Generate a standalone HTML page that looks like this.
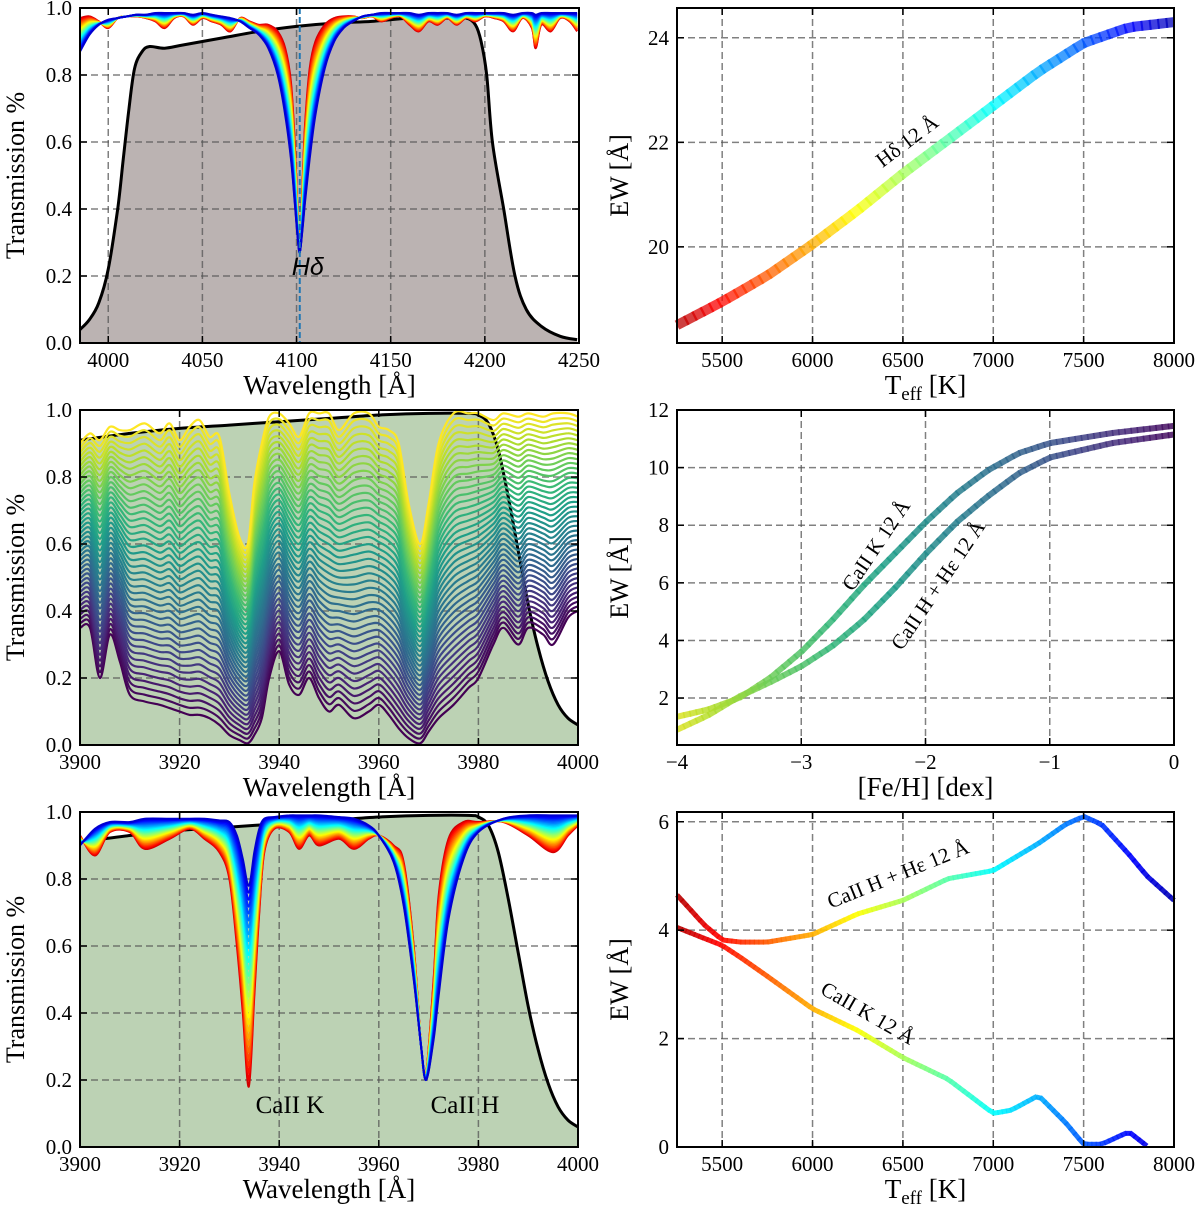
<!DOCTYPE html>
<html><head><meta charset="utf-8"><style>
html,body{margin:0;padding:0;background:#fff}
svg text{font-family:"Liberation Serif",serif;fill:#000}
</style></head><body>
<svg id="fig" width="1200" height="1207" viewBox="0 0 1200 1207" xmlns="http://www.w3.org/2000/svg"></svg>
<script>
// ---------- DATA ----------
// Panel A (H-delta spectra, 3985-4250 A)
const hdWave = [3985,3990,3995,4000,4005,4010,4015,4020,4025,4030,4035,4040,4045,4050,4055,4060,4065,4070,4075,4080,4085,4090,4094,4097,4099,4100.5,4101.7,4103,4104.5,4107,4110,4115,4120,4125,4130,4135,4140,4145,4150,4155,4160,4165,4170,4175,4180,4185,4190,4195,4200,4205,4210,4215,4220,4225,4227,4230,4235,4240,4245,4249];
const hdCool = [0.97,0.975,0.96,0.94,0.97,0.975,0.975,0.97,0.96,0.94,0.97,0.975,0.95,0.97,0.96,0.95,0.93,0.97,0.96,0.95,0.95,0.93,0.88,0.78,0.6,0.4,0.27,0.45,0.65,0.82,0.9,0.95,0.97,0.975,0.975,0.97,0.975,0.96,0.97,0.975,0.95,0.93,0.96,0.95,0.97,0.95,0.97,0.96,0.975,0.97,0.96,0.93,0.97,0.94,0.88,0.95,0.93,0.97,0.96,0.93];
const hdHot = [0.87,0.92,0.95,0.965,0.97,0.975,0.98,0.98,0.985,0.985,0.985,0.985,0.98,0.985,0.98,0.975,0.97,0.96,0.94,0.92,0.88,0.8,0.68,0.55,0.42,0.32,0.27,0.33,0.42,0.55,0.68,0.82,0.9,0.94,0.96,0.975,0.98,0.985,0.985,0.985,0.985,0.98,0.985,0.985,0.985,0.98,0.985,0.985,0.985,0.985,0.985,0.98,0.985,0.985,0.98,0.985,0.985,0.985,0.985,0.985];
const hdFiltWave = [3985,3990,3995,4000,4005,4008,4011,4014,4018,4022,4030,4040,4060,4080,4100,4120,4140,4160,4180,4190,4195,4198,4201,4204,4210,4216,4222,4230,4240,4249];
const hdFilt = [0.04,0.07,0.12,0.22,0.4,0.55,0.7,0.82,0.87,0.885,0.88,0.89,0.91,0.93,0.945,0.955,0.96,0.97,0.97,0.97,0.95,0.9,0.8,0.6,0.4,0.2,0.1,0.05,0.02,0.01];
// Panel C (metallicity family)
const mWave = [3900,3902,3904,3906,3908,3910,3913,3916,3918,3920,3922,3924,3926,3928,3930,3932,3933.7,3935,3936.5,3938,3940,3942,3944,3946,3948,3950,3952,3955,3958,3960,3962,3964,3966,3968.3,3970,3972,3975,3978,3980,3983,3985,3988,3990,3993,3995,3998,4000];
const mRich = [0.35,0.35,0.2,0.33,0.25,0.15,0.13,0.12,0.11,0.1,0.09,0.09,0.08,0.06,0.03,0.015,0.005,0.03,0.08,0.2,0.28,0.18,0.15,0.2,0.14,0.1,0.12,0.08,0.1,0.12,0.09,0.05,0.02,0.005,0.04,0.08,0.12,0.17,0.2,0.3,0.35,0.3,0.35,0.33,0.3,0.38,0.4];
const mPoor = [0.9,0.93,0.91,0.95,0.94,0.94,0.96,0.93,0.96,0.91,0.95,0.97,0.92,0.92,0.75,0.62,0.6,0.78,0.9,0.98,0.99,0.96,0.92,0.99,0.99,0.99,0.94,0.99,0.99,0.95,0.94,0.9,0.72,0.6,0.72,0.9,0.99,0.99,0.99,0.97,0.99,0.98,0.99,0.98,0.99,0.99,0.98];
const caFiltWave = [3900,3910,3920,3930,3940,3950,3960,3970,3978,3980,3982,3984,3986,3988,3990,3992,3994,3996,3998,4000];
const caFilt = [0.91,0.93,0.945,0.955,0.965,0.975,0.985,0.99,0.99,0.985,0.96,0.88,0.74,0.58,0.42,0.29,0.19,0.12,0.08,0.06];
// Panel E (temperature family)
const tWave = [3900,3903,3906,3910,3913,3918,3922,3925,3928,3930,3931.5,3932.7,3933.9,3935,3936,3937,3939,3942,3944,3946,3948,3952,3955,3958,3960,3963,3965,3967,3968.5,3969.5,3971,3972,3974,3977,3980,3985,3990,3995,3998,4000];
const tCool = [0.93,0.87,0.94,0.94,0.89,0.92,0.95,0.92,0.88,0.8,0.6,0.4,0.18,0.45,0.7,0.88,0.95,0.94,0.89,0.93,0.9,0.92,0.89,0.92,0.93,0.9,0.85,0.6,0.3,0.22,0.5,0.75,0.92,0.97,0.97,0.97,0.93,0.88,0.93,0.96];
const tHot = [0.9,0.95,0.97,0.97,0.98,0.98,0.98,0.98,0.975,0.97,0.93,0.86,0.78,0.88,0.95,0.98,0.985,0.99,0.99,0.99,0.99,0.985,0.98,0.96,0.93,0.85,0.72,0.5,0.3,0.2,0.32,0.45,0.68,0.86,0.94,0.98,0.99,0.99,0.99,0.99];
// Panel B (H-delta EW vs Teff)
const hdTeff = [5250,5500,5750,6000,6250,6500,6750,7000,7250,7500,7750,8000];
const hdEW = [18.5,18.95,19.45,20.05,20.7,21.4,22.05,22.7,23.35,23.9,24.2,24.3];
// Panel D (EW vs [Fe/H])
const feh = [-4,-3.75,-3.5,-3.25,-3,-2.75,-2.5,-2.25,-2,-1.75,-1.5,-1.25,-1,-0.5,0];
const ewK_feh = [1.35,1.6,2.0,2.7,3.6,4.7,5.9,7.0,8.1,9.1,9.9,10.5,10.85,11.2,11.45];
const ewH_feh = [0.9,1.4,2.05,2.55,3.1,3.8,4.7,5.8,7.0,8.1,9.0,9.8,10.35,10.85,11.15];
// Panel F (CaII EW vs Teff)
const caTeff = [5250,5400,5500,5600,5750,6000,6250,6500,6750,7000,7100,7250,7400,7500,7600,7750,7850,8000];
const ewH_T = [4.65,4.1,3.82,3.78,3.78,3.92,4.3,4.55,4.95,5.1,5.3,5.6,5.95,6.1,5.95,5.4,5.0,4.55];
const ewK_T = [4.05,3.85,3.72,3.5,3.15,2.55,2.15,1.65,1.25,0.62,0.68,0.95,0.45,0.05,0.05,0.28,0.02,null];

// ticks
const tickA = [4000,4050,4100,4150,4200,4250];
const tickCE = [3900,3920,3940,3960,3980,4000];
const tickTrans = [0,0.2,0.4,0.6,0.8,1.0];
const tickTeff = [5500,6000,6500,7000,7500,8000];
const tickEWB = [20,22,24];
const tickFeh = [-4,-3,-2,-1,0];
const tickEWD = [2,4,6,8,10,12];
const tickEWF = [0,2,4,6];

// ---------- HELPERS ----------
const NS = 'http://www.w3.org/2000/svg';
const fig = document.getElementById('fig');
function el(tag, attrs, parent){const e=document.createElementNS(NS,tag);for(const k in attrs)e.setAttribute(k,attrs[k]);(parent||fig).appendChild(e);return e;}
function lin(d0,d1,r0,r1){return v=>r0+(v-d0)*(r1-r0)/(d1-d0);}
function interp(xs,ys,x){for(let i=0;i<xs.length-1;i++){if(x>=xs[i]&&x<=xs[i+1]){return ys[i]+(ys[i+1]-ys[i])*(x-xs[i])/(xs[i+1]-xs[i]);}}return x<xs[0]?ys[0]:ys[ys.length-1];}
function smoothPath(pts){if(pts.length<2)return'';let d='M'+pts[0][0].toFixed(1)+','+pts[0][1].toFixed(1);for(let i=0;i<pts.length-1;i++){const p0=pts[i-1]||pts[i],p1=pts[i],p2=pts[i+1],p3=pts[i+2]||p2;const c1=[p1[0]+(p2[0]-p0[0])/6,p1[1]+(p2[1]-p0[1])/6],c2=[p2[0]-(p3[0]-p1[0])/6,p2[1]-(p3[1]-p1[1])/6];d+='C'+c1[0].toFixed(1)+','+c1[1].toFixed(1)+' '+c2[0].toFixed(1)+','+c2[1].toFixed(1)+' '+p2[0].toFixed(1)+','+p2[1].toFixed(1);}return d;}
const VIR=['#440154','#482878','#3e4989','#31688e','#26828e','#1f9e89','#35b779','#6ece58','#b5de2b','#fde725'];
function hex(h){return[parseInt(h.substr(1,2),16),parseInt(h.substr(3,2),16),parseInt(h.substr(5,2),16)];}
function viridis(t){t=Math.max(0,Math.min(1,t));const f=t*(VIR.length-1),i=Math.min(VIR.length-2,Math.floor(f)),u=f-i;const a=hex(VIR[i]),b=hex(VIR[i+1]);return'rgb('+a.map((v,k)=>Math.round(v+(b[k]-v)*u)).join(',')+')';}
function jet(v){v=Math.max(0,Math.min(1,v));const c=x=>Math.round(255*Math.max(0,Math.min(1,1.5-Math.abs(4*v-x))));return'rgb('+c(3)+','+c(2)+','+c(1)+')';}

function drawGrid(p,xticks,yticks){
  const g=el('g',{stroke:'#555','stroke-opacity':'0.75','stroke-width':'1.5','stroke-dasharray':'7,4',fill:'none'});
  
  
  xticks.forEach(t=>{const x=p.sx(t);if(x>p.x0+1&&x<p.x1-1)el('line',{x1:x,x2:x,y1:p.y0,y2:p.y1},g);});
  yticks.forEach(t=>{const y=p.sy(t);if(y>p.y0+1&&y<p.y1-1)el('line',{x1:p.x0,x2:p.x1,y1:y,y2:y},g);});
}
function drawAxes(p,xticks,yticks,xfmt,yfmt){
  const g=el('g',{});
  
  
  el('rect',{x:p.x0,y:p.y0,width:p.x1-p.x0,height:p.y1-p.y0,fill:'none',stroke:'#000','stroke-width':'2'},g);
  xticks.forEach(t=>{const x=p.sx(t);el('line',{x1:x,x2:x,y1:p.y1,y2:p.y1-7,stroke:'#000','stroke-width':'1.5'},g);el('line',{x1:x,x2:x,y1:p.y0,y2:p.y0+7,stroke:'#000','stroke-width':'1.5'},g);
    const tx=el('text',{x:x,y:p.y1+24,'font-size':'21','text-anchor':'middle'},g);tx.textContent=xfmt(t);
    
    });
  yticks.forEach(t=>{const y=p.sy(t);el('line',{x1:p.x0,x2:p.x0+7,y1:y,y2:y,stroke:'#000','stroke-width':'1.5'},g);el('line',{x1:p.x1,x2:p.x1-7,y1:y,y2:y,stroke:'#000','stroke-width':'1.5'},g);
    const tx=el('text',{x:p.x0-8,y:y+7,'font-size':'21','text-anchor':'end'},g);tx.textContent=yfmt(t);
    
    });
}
function xTitle(p,html,name){const t=el('text',{x:(p.x0+p.x1)/2,y:p.y1+51,'font-size':'27','text-anchor':'middle'});t.innerHTML=html;
  
  }
function yTitle(p,x,txt,name){const cy=(p.y0+p.y1)/2;const t=el('text',{x:x,y:cy,'font-size':'26','text-anchor':'middle',transform:'rotate(-90 '+x+' '+cy+')'});t.textContent=txt;
  
  }
function filterFill(p,wv,vals,color,name){
  const pts=wv.map((w,i)=>[p.sx(w),p.sy(vals[i])]);
  const d=smoothPath(pts)+'L'+p.sx(wv[wv.length-1])+','+p.y1+'L'+p.sx(wv[0])+','+p.y1+'Z';
  const f=el('path',{d:d,fill:color,stroke:'none'});
  
  
}
function filterLine(p,wv,vals,name){
  const pts=wv.map((w,i)=>[p.sx(w),p.sy(vals[i])]);
  const l=el('path',{d:smoothPath(pts),fill:'none',stroke:'#000','stroke-width':'3'});
  
  
}
function family(p,wv,a,b,n,colorFn,sw,name){
  const g=el('g',{fill:'none','stroke-width':sw,'stroke-linejoin':'round'});
  
  
  for(let k=0;k<n;k++){const t=k/(n-1);
    const pts=wv.map((w,i)=>[p.sx(w),p.sy(a[i]+(b[i]-a[i])*t)]);
    const l=el('path',{d:smoothPath(pts),stroke:colorFn(t)},g);
    
    }
}
function gradLine(p,xs,ys,colorFn,sw,op,name,steps){
  const g=el('g',{'stroke-width':sw,'stroke-linecap':'butt',fill:'none','stroke-opacity':op});
  
  
  const xv=[],yv=[];xs.forEach((x,i)=>{if(ys[i]!==null){xv.push(x);yv.push(ys[i]);}});
  const lo=xv[0],hi=xv[xv.length-1];
  for(let s=0;s<steps;s++){const xa=lo+(hi-lo)*s/steps,xb=lo+(hi-lo)*(s+1.25)/steps;const xb2=Math.min(xb,hi);
    el('line',{x1:p.sx(xa),y1:p.sy(interp(xv,yv,xa)),x2:p.sx(xb2),y2:p.sy(interp(xv,yv,xb2)),stroke:colorFn((xa+xb2)/2)},g);}
}

// ---------- PANELS ----------
function panel(name,x0,x1,y0,y1,dx0,dx1,dy0,dy1){return{name,x0,x1,y0,y1,sx:lin(dx0,dx1,x0,x1),sy:lin(dy0,dy1,y1,y0)};}
const fmt1=v=>v.toFixed(1), fmt0=v=>String(v), fmtM=v=>v<0?'\u2212'+Math.abs(v):String(v);

// A
const pA=panel('hdelta-spectra',80,579,8,343,3985,4250,0,1.0);
filterFill(pA,hdFiltWave,hdFilt,'#bbb3b2','hdelta-filter');
drawGrid(pA,tickA,tickTrans);
filterLine(pA,hdFiltWave,hdFilt,'hdelta-filter');
family(pA,hdWave,hdCool,hdHot,30,t=>jet(0.92-0.84*t),2,'hdelta-spectrum-family');
(function(){const x=pA.sx(4101.7);const l=el('line',{x1:x,x2:x,y1:pA.y0,y2:pA.y1,stroke:'#1f77b4','stroke-width':'2','stroke-dasharray':'6,3'});
  
  
  const t=el('text',{x:x+8,y:275,'font-size':'25','text-anchor':'middle','font-style':'italic',style:'font-family:"Liberation Sans",sans-serif'});t.textContent='Hδ';
  
  })();
drawAxes(pA,tickA,tickTrans,fmt0,fmt1);
xTitle(pA,'Wavelength [Å]','x-axis-title-a');
yTitle(pA,24,'Transmission %','y-axis-title-a');

// C
const pC=panel('metallicity-spectra',80,578,410,745,3900,4000,0,1.0);
filterFill(pC,caFiltWave,caFilt,'#bcd2b4','cahk-filter-c');
drawGrid(pC,tickCE,tickTrans);
filterLine(pC,caFiltWave,caFilt,'cahk-filter-c');
family(pC,mWave,mRich,mPoor,42,t=>viridis(t),2.2,'metallicity-spectrum-family');
drawAxes(pC,tickCE,tickTrans,fmt0,fmt1);
xTitle(pC,'Wavelength [Å]','x-axis-title-c');
yTitle(pC,24,'Transmission %','y-axis-title-c');

// E
const pE=panel('temperature-spectra',80,578,812,1147,3900,4000,0,1.0);
filterFill(pE,caFiltWave,caFilt,'#bcd2b4','cahk-filter-e');
drawGrid(pE,tickCE,tickTrans);
filterLine(pE,caFiltWave,caFilt,'cahk-filter-e');
family(pE,tWave,tCool,tHot,30,t=>jet(0.92-0.84*t),2,'temperature-spectrum-family');
[['CaII K',290,'caii-k-label'],['CaII H',465,'caii-h-label']].forEach(a=>{const t=el('text',{x:a[1],y:1113,'font-size':'25','text-anchor':'middle'});t.textContent=a[0];
  
  });
drawAxes(pE,tickCE,tickTrans,fmt0,fmt1);
xTitle(pE,'Wavelength [Å]','x-axis-title-e');
yTitle(pE,24,'Transmission %','y-axis-title-e');

// B
const pB=panel('hdelta-ew-teff',677,1174,8,343,5250,8000,18.16,24.57);
drawGrid(pB,tickTeff,tickEWB);
const teffCol=x=>jet(0.95-0.9*(x-5250)/2750);
gradLine(pB,hdTeff,hdEW,teffCol,10,0.75,'hdelta-ew-curve',60);
(function(){const t=el('text',{x:907,y:148,'font-size':'21','text-anchor':'middle',transform:'rotate(-37 907 141)'});t.textContent='Hδ 12 Å';
  
  })();
drawAxes(pB,tickTeff,tickEWB,fmt0,fmt0);
xTitle(pB,'T<tspan font-size="19" dy="6">eff</tspan><tspan dy="-6"> [K]</tspan>','x-axis-title-b');
yTitle(pB,628,'EW [Å]','y-axis-title-b');

// D
const pD=panel('caii-ew-feh',677,1174,410,745,-4,0,0.37,12);
drawGrid(pD,tickFeh,tickEWD);
const fehCol=x=>viridis(0.95-0.92*(x+4)/4);
gradLine(pD,feh,ewK_feh,fehCol,6,0.85,'caii-k-feh-curve',80);
gradLine(pD,feh,ewH_feh,fehCol,6,0.85,'caii-h-heps-feh-curve',80);
[['CaII K 12 Å',876,545,-56,'caii-k-feh-label'],['CaII H + Hε 12 Å',938,585,-56,'caii-h-feh-label']].forEach(a=>{const t=el('text',{x:a[1],y:a[2]+7,'font-size':'21','text-anchor':'middle',transform:'rotate('+a[3]+' '+a[1]+' '+a[2]+')'});t.textContent=a[0];
  
  });
drawAxes(pD,tickFeh,tickEWD,fmtM,fmt0);
xTitle(pD,'[Fe/H] [dex]','x-axis-title-d');
yTitle(pD,628,'EW [Å]','y-axis-title-d');

// F
const pF=panel('caii-ew-teff',677,1174,812,1147,5250,8000,0,6.18);
drawGrid(pF,tickTeff,tickEWF);
gradLine(pF,caTeff,ewH_T,teffCol,5,0.9,'caii-h-heps-teff-curve',110);
gradLine(pF,caTeff,ewK_T,teffCol,5,0.9,'caii-k-teff-curve',110);
[['CaII H + Hε 12 Å',898,874,-22,'caii-h-teff-label'],['CaII K 12 Å',868,1013,30,'caii-k-teff-label']].forEach(a=>{const t=el('text',{x:a[1],y:a[2]+7,'font-size':'21','text-anchor':'middle',transform:'rotate('+a[3]+' '+a[1]+' '+a[2]+')'});t.textContent=a[0];
  
  });
drawAxes(pF,tickTeff,tickEWF,fmt0,fmt0);
xTitle(pF,'T<tspan font-size="19" dy="6">eff</tspan><tspan dy="-6"> [K]</tspan>','x-axis-title-f');
yTitle(pF,628,'EW [Å]','y-axis-title-f');
</script>
</body></html>
